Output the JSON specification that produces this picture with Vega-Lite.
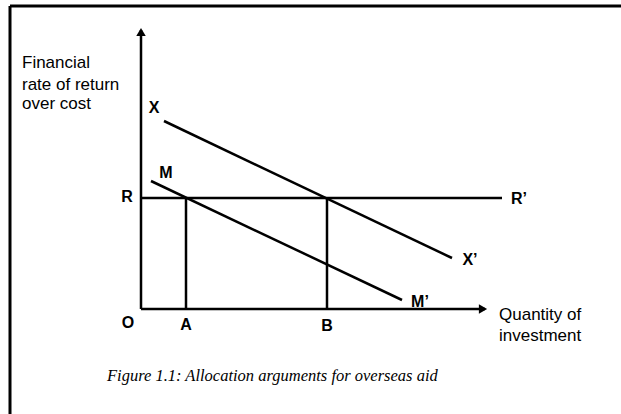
{
  "$schema": "https://vega.github.io/schema/vega-lite/v6.json",
  "width": 621,
  "height": 414,
  "autosize": {"type": "none"},
  "padding": 0,
  "background": "white",
  "config": {"view": {"stroke": null}},
  "datasets": {
    "segments": [
      {"name": "y-axis", "x": 0, "y": 0, "x2": 0, "y2": 279},
      {"name": "x-axis", "x": 0, "y": 0, "x2": 344, "y2": 0},
      {"name": "RR'", "x": 0, "y": 111, "x2": 361, "y2": 111},
      {"name": "XX'", "x": 23, "y": 188, "x2": 311, "y2": 51},
      {"name": "MM'", "x": 10, "y": 128, "x2": 261, "y2": 9},
      {"name": "A", "x": 45, "y": 0, "x2": 45, "y2": 111},
      {"name": "B", "x": 186, "y": 0, "x2": 186, "y2": 111}
    ],
    "frame": [
      {"x": -131, "y": 303, "x2": 480, "y2": 303},
      {"x": -131, "y": 303, "x2": -131, "y2": -105}
    ],
    "arrows": [
      {"dir": "up", "x": 0, "y": 277},
      {"dir": "right", "x": 342, "y": 0}
    ],
    "letters": [
      {"label": "X", "x": 13, "y": 201},
      {"label": "M", "x": 25, "y": 136},
      {"label": "R", "x": -14, "y": 112},
      {"label": "R’", "x": 378, "y": 110},
      {"label": "X’", "x": 329, "y": 49},
      {"label": "M’", "x": 279, "y": 7},
      {"label": "O", "x": -13, "y": -14},
      {"label": "A", "x": 45, "y": -16},
      {"label": "B", "x": 186, "y": -17}
    ],
    "words": [
      {"label": "Financial", "x": -119, "y": 246},
      {"label": "rate of return", "x": -119, "y": 224},
      {"label": "over cost", "x": -119, "y": 205},
      {"label": "Quantity of", "x": 358, "y": -6},
      {"label": "investment", "x": 358, "y": -27}
    ],
    "caption": [
      {"label": "Figure 1.1: Allocation arguments for overseas aid", "x": -34, "y": -67}
    ]
  },
  "layer": [
    {
      "data": {"name": "frame"},
      "mark": {"type": "rule", "strokeWidth": 3, "color": "black"},
      "encoding": {
        "x": {"field": "x", "type": "quantitative", "scale": {"domain": [-141, 480], "nice": false, "zero": false}, "axis": null},
        "y": {"field": "y", "type": "quantitative", "scale": {"domain": [-105, 309], "nice": false, "zero": false}, "axis": null},
        "x2": {"field": "x2"},
        "y2": {"field": "y2"}
      }
    },
    {
      "data": {"name": "segments"},
      "mark": {"type": "rule", "strokeWidth": 2.5, "color": "black"},
      "encoding": {
        "x": {"field": "x", "type": "quantitative", "axis": null},
        "y": {"field": "y", "type": "quantitative", "axis": null},
        "x2": {"field": "x2"},
        "y2": {"field": "y2"}
      }
    },
    {
      "data": {"name": "arrows"},
      "mark": {"type": "point", "filled": true, "color": "black", "opacity": 1, "size": 90},
      "encoding": {
        "x": {"field": "x", "type": "quantitative", "axis": null},
        "y": {"field": "y", "type": "quantitative", "axis": null},
        "shape": {"field": "dir", "type": "nominal", "scale": {"domain": ["up", "right"], "range": ["triangle-up", "triangle-right"]}, "legend": null}
      }
    },
    {
      "data": {"name": "letters"},
      "mark": {"type": "text", "font": "Liberation Sans", "fontSize": 16, "fontWeight": "bold", "align": "center", "baseline": "middle", "color": "black"},
      "encoding": {
        "x": {"field": "x", "type": "quantitative", "axis": null},
        "y": {"field": "y", "type": "quantitative", "axis": null},
        "text": {"field": "label"}
      }
    },
    {
      "data": {"name": "words"},
      "mark": {"type": "text", "font": "Liberation Sans", "fontSize": 17, "align": "left", "baseline": "middle", "color": "black"},
      "encoding": {
        "x": {"field": "x", "type": "quantitative", "axis": null},
        "y": {"field": "y", "type": "quantitative", "axis": null},
        "text": {"field": "label"}
      }
    },
    {
      "data": {"name": "caption"},
      "mark": {"type": "text", "font": "Liberation Serif", "fontSize": 16.5, "fontStyle": "italic", "align": "left", "baseline": "middle", "color": "black"},
      "encoding": {
        "x": {"field": "x", "type": "quantitative", "axis": null},
        "y": {"field": "y", "type": "quantitative", "axis": null},
        "text": {"field": "label"}
      }
    }
  ]
}
